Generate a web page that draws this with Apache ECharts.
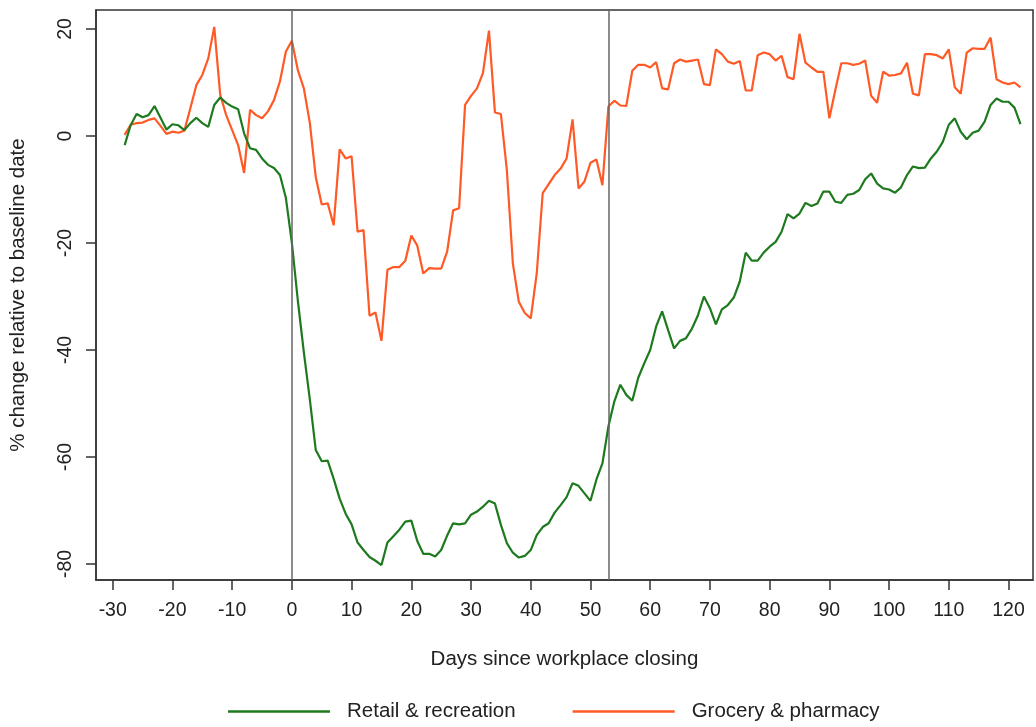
<!DOCTYPE html>
<html>
<head>
<meta charset="utf-8">
<script src="https://cdn.jsdelivr.net/npm/echarts@6/dist/echarts.min.js"></script>
<style>
html,body{margin:0;padding:0;background:#fff;}
#chart{width:1036px;height:727px;}
</style>
</head>
<body>
<div id="chart"></div>
<script>
const days = [-28,-27,-26,-25,-24,-23,-22,-21,-20,-19,-18,-17,-16,-15,-14,-13,-12,-11,-10,-9,-8,-7,-6,-5,-4,-3,-2,-1,
0,1,2,3,4,5,6,7,8,9,10,11,12,13,14,15,16,17,18,19,20,21,22,23,24,25,26,27,28,29,30,31,32,33,34,35,36,37,38,39,
40,41,42,43,44,45,46,47,48,49,50,51,52,53,54,55,56,57,58,59,60,61,62,63,64,65,66,67,68,69,70,71,72,73,74,75,76,77,78,79,
80,81,82,83,84,85,86,87,88,89,90,91,92,93,94,95,96,97,98,99,100,101,102,103,104,105,106,107,108,109,110,111,112,113,114,115,116,117,118,119,120,121,122];

const retailRecreation = [-1.7,2.0,4.1,3.5,3.9,5.6,3.4,1.2,2.2,2.0,1.1,2.4,3.4,2.4,1.7,5.8,7.2,6.2,5.5,5.0,0.5,-2.3,-2.6,-4.2,-5.4,-6.0,-7.3,-11.6,
-20.0,-30.8,-40.4,-49.2,-58.7,-60.8,-60.7,-64.1,-67.8,-70.6,-72.6,-76.0,-77.4,-78.7,-79.4,-80.2,-76.0,-74.8,-73.6,-72.1,-71.9,-75.7,-78.1,-78.1,-78.6,-77.4,-74.7,-72.4,-72.6,-72.4,-70.8,-70.2,-69.3,-68.2,-68.7,-72.7,-76.1,-77.9,-78.8,-78.5,
-77.4,-74.6,-73.1,-72.4,-70.4,-69.0,-67.5,-64.9,-65.4,-66.8,-68.2,-64.2,-61.2,-54.3,-49.6,-46.5,-48.4,-49.5,-45.2,-42.5,-40.0,-35.6,-32.8,-36.3,-39.7,-38.3,-37.8,-36.0,-33.5,-30.0,-32.2,-35.2,-32.4,-31.6,-30.2,-27.2,-21.8,-23.3,-23.3,-21.8,
-20.7,-19.8,-17.9,-14.6,-15.4,-14.5,-12.5,-13.1,-12.6,-10.4,-10.4,-12.3,-12.5,-11.0,-10.8,-10.1,-8.1,-7.0,-8.9,-9.8,-10.0,-10.6,-9.6,-7.3,-5.7,-6.0,-5.9,-4.2,-2.9,-1.1,2.1,3.3,0.8,-0.6,0.6,1.0,2.7,5.8,7.0,6.4,6.4,5.3,2.2];

const groceryPharmacy = [0.2,2.1,2.4,2.5,3.0,3.3,1.9,0.4,0.8,0.6,1.0,5.2,9.5,11.4,14.5,20.4,7.7,3.9,1.1,-1.7,-6.9,4.9,3.9,3.3,4.6,6.7,10.2,15.8,
17.8,12.3,8.9,2.5,-7.7,-12.8,-12.6,-16.7,-2.5,-4.2,-3.8,-17.9,-17.6,-33.6,-33.0,-38.3,-25.0,-24.5,-24.5,-23.3,-18.6,-20.5,-25.7,-24.7,-24.8,-24.8,-21.6,-13.9,-13.5,5.8,7.5,8.9,11.8,19.7,4.4,4.1,-6.4,-23.8,-31.0,-33.1,
-34.1,-25.7,-10.7,-9.0,-7.3,-6.1,-4.2,3.1,-9.8,-8.5,-5.0,-4.4,-9.2,5.5,6.6,5.7,5.6,12.2,13.3,13.3,12.8,13.8,8.9,8.7,13.6,14.3,13.9,14.1,14.3,9.7,9.5,16.2,15.3,13.9,13.5,14.0,8.5,8.5,15.1,15.6,
15.3,14.1,15.0,11.0,10.6,19.1,13.7,12.8,12.0,12.0,3.3,8.6,13.6,13.6,13.3,13.5,14.1,7.5,6.2,12.0,11.3,11.4,11.7,13.7,7.9,7.6,15.3,15.3,15.1,14.5,16.2,9.1,7.9,15.6,16.4,16.3,16.3,18.4,10.6,10.0,9.7,10.0,9.1];

const xTicks = [-30,-20,-10,0,10,20,30,40,50,60,70,80,90,100,110,120];
const yTicks = [-80,-60,-40,-20,0,20];
const eventDays = [0, 53];

const seriesNames = ['Retail & recreation', 'Grocery & pharmacy'];

function pairs(xs, ys){ return xs.map((x,i)=>[x, ys[i]]); }

const FONT = '"Liberation Sans", Arial, Helvetica, sans-serif';
const AXC = '#333333';
const chart = echarts.init(document.getElementById('chart'), null, {renderer:'canvas'});
chart.setOption({
  animation: false,
  backgroundColor: '#ffffff',
  textStyle: {fontFamily: FONT, color: '#222'},
  grid: {left: 96, right: 3, top: 10, bottom: 147, show: true, borderColor: AXC, borderWidth: 1.5, backgroundColor: 'transparent'},
  xAxis: {
    type: 'value', min: -32.8, max: 124.1,
    name: 'Days since workplace closing', nameLocation: 'middle', nameGap: 69,
    nameTextStyle: {fontSize: 20.5, color: '#222', fontFamily: FONT},
    axisLine: {show: true, onZero: false, lineStyle: {color: AXC, width: 1.5}},
    axisTick: {show: true, length: 10, customValues: xTicks, lineStyle: {color: AXC, width: 1.5}},
    axisLabel: {customValues: xTicks, margin: 21, fontSize: 19.5, color: '#222', fontFamily: FONT},
    splitLine: {show: false}
  },
  yAxis: {
    type: 'value', min: -83, max: 23.55,
    name: '% change relative to baseline date', nameLocation: 'middle', nameGap: 67, nameRotate: 90,
    nameTextStyle: {fontSize: 20.5, color: '#222', fontFamily: FONT},
    axisLine: {show: true, onZero: false, lineStyle: {color: AXC, width: 1.5}},
    axisTick: {show: true, length: 10, customValues: yTicks, lineStyle: {color: AXC, width: 1.5}},
    axisLabel: {customValues: yTicks, rotate: 90, margin: 20, fontSize: 19.5, color: '#222', fontFamily: FONT},
    splitLine: {show: false}
  },
  legend: {
    left: 223, top: 696, itemWidth: 102, itemHeight: 2.5, itemGap: 57, icon: 'rect',
    textStyle: {fontSize: 20.5, color: '#222', fontFamily: FONT, padding: [0,0,0,12]},
    data: seriesNames
  },
  series: [
    {
      name: seriesNames[0], type: 'line', data: pairs(days, retailRecreation),
      symbol: 'none', lineStyle: {color: '#1e7a1e', width: 2.2}, itemStyle: {color: '#1e7a1e'},
      z: 3,
      markLine: {
        silent: true, symbol: ['none','none'], label: {show: false},
        lineStyle: {color: '#666', width: 1.5, type: 'solid'},
        data: eventDays.map(d => ({xAxis: d}))
      }
    },
    {
      name: seriesNames[1], type: 'line', data: pairs(days, groceryPharmacy),
      symbol: 'none', lineStyle: {color: '#ff5a26', width: 2.2}, itemStyle: {color: '#ff5a26'},
      z: 2
    }
  ]
});
</script>
</body>
</html>
